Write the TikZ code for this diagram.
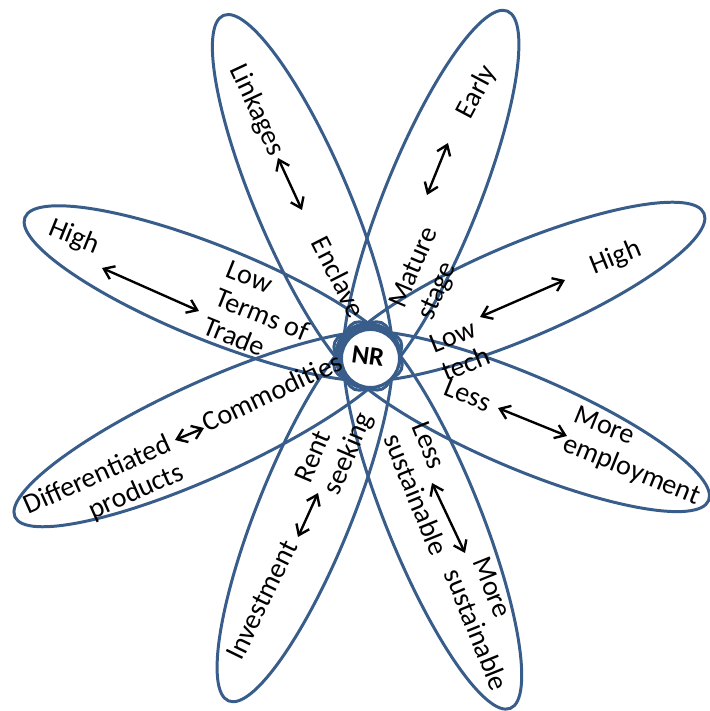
\documentclass[tikz,border=0pt]{standalone}
\usepackage{fontspec}
\setmainfont{Carlito}
\usetikzlibrary{arrows.meta}
\definecolor{petalblue}{HTML}{385D8A}

\begin{document}
\begin{tikzpicture}[
  x=0.02cm, y=0.02cm,
  petal/.style={draw=petalblue, line width=1.7pt},
  lbl/.style={font=\fontsize{16}{17.5}\selectfont, align=left, inner sep=1pt},
  arr/.style={{Straight Barb[length=5.5pt,width=8pt]}-{Straight Barb[length=5.5pt,width=8pt]}, line width=1.35pt, black}
]
  \useasboundingbox (-368,-355) rectangle (342,356);
  \foreach \ang/\len in {113/370, 68/372, 158/370, 23/365, 204.5/388, -23/370, 248/372, -68/380}{
    \pgfmathsetmacro\ctr{(\len-36)/2}
    \pgfmathsetmacro\rx{(\len+36)/2}
    \draw[petal, rotate=\ang] (\ctr,0) ellipse [x radius=\rx, y radius=47];
  }
  \foreach \t in {0,45,...,315}
    \draw[petal, fill=white] (\t:3.5) circle [radius=29];
  \node[font=\fontsize{15}{15}\selectfont\bfseries, rotate=-8] (nr) at (0,0) {NR};

  \node[lbl, rotate=-65] (linkages) at (-111.5,246) {Linkages};
  \node[lbl, rotate=-63] (enclave) at (-29,79) {Enclave};
  \node[lbl, rotate=62] (early) at (109,264) {Early};
  \node[lbl, rotate=67] (mature) at (61,82) {Mature\\stage};
  \node[lbl, rotate=-22] (hightot) at (-294,119) {High};
  \node[lbl, rotate=-22] (lowtot) at (-106,41) {Low\\Terms of\\Trade};
  \node[lbl, rotate=22] (hightech) at (248,98) {High};
  \node[lbl, rotate=22] (lowtech) at (92,6) {Low\\tech};
  \node[lbl, rotate=24, align=right] (diffprod) at (-264,-134) {Differentiated\\products};
  \node[lbl, rotate=25] (commod) at (-96,-36) {Commodities};
  \node[lbl, rotate=-22] (lessemp) at (100,-39) {Less};
  \node[lbl, rotate=-22] (moreemp) at (269,-101) {More\\employment};
  \node[lbl, rotate=64] (invest) at (-106,-244) {Investment};
  \node[lbl, rotate=67] (rent) at (-32.5,-92) {Rent\\seeking};
  \node[lbl, rotate=-68] (lesssus) at (62,-133) {Less\\sustainable};
  \node[lbl, rotate=-68] (moresus) at (122.6,-268) {More\\sustainable};

  \coordinate (a1) at (-90,198);   \coordinate (b1) at (-66,146);
  \coordinate (a2) at (80,213);    \coordinate (b2) at (59,161);
  \coordinate (a3) at (-266,88);   \coordinate (b3) at (-169,45);
  \coordinate (a4) at (112,39);    \coordinate (b4) at (197,76);
  \coordinate (a5) at (-193,-84);  \coordinate (b5) at (-164,-72);
  \coordinate (a6) at (130,-52);   \coordinate (b6) at (199,-80);
  \coordinate (a7) at (-70,-181);  \coordinate (b7) at (-50,-137);
  \coordinate (a8) at (64,-127);   \coordinate (b8) at (97,-197);
  \foreach \i in {1,...,8}
    \draw[arr] (a\i) -- (b\i);
\end{tikzpicture}
\end{document}
